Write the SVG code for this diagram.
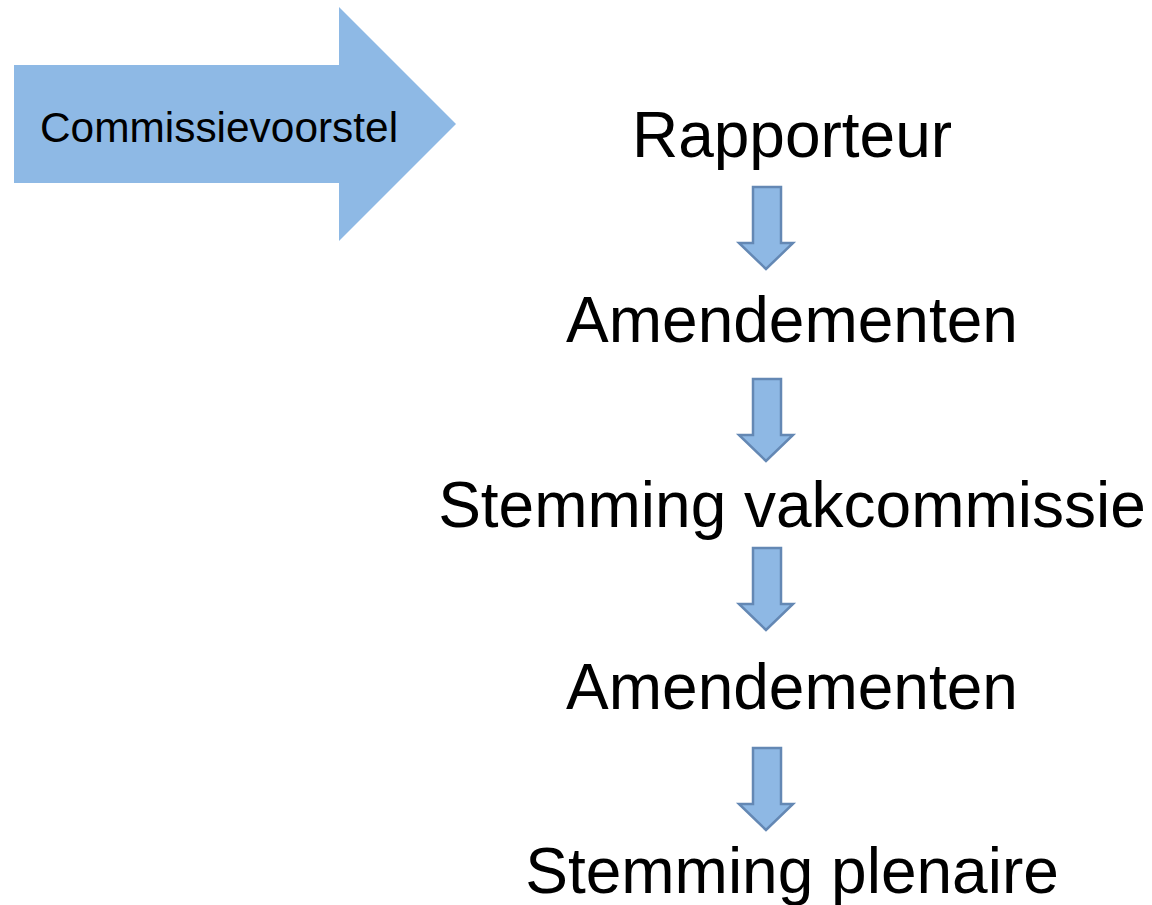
<svg xmlns="http://www.w3.org/2000/svg" width="1152" height="905" viewBox="0 0 1152 905">
<defs>
<style>
.big{font-family:"Liberation Sans",Arial,sans-serif;font-size:64px;fill:#000;text-anchor:middle}
.small{font-family:"Liberation Sans",Arial,sans-serif;font-size:42.4px;fill:#000}
.down{fill:#8EB8E4;stroke:#6488B4;stroke-width:2.5;stroke-linejoin:miter}
</style>
<path id="downArrow" class="down" d="M753,0 L781,0 L781,56 L793,56 L766,82 L739,56 L753,56 Z"/>
</defs>
<rect width="1152" height="905" fill="#fff"/>
<g id="commissievoorstel">
<polygon points="14,65 339,65 339,7 456,124 339,241 339,183 14,183" fill="#8EB9E5"/>
<text class="small" x="40" y="142">Commissievoorstel</text>
</g>
<g id="rapporteur"><text class="big" x="792" y="157">Rapporteur</text></g>
<g id="amendementen1"><text class="big" x="792" y="342">Amendementen</text></g>
<g id="stemming-vakcommissie"><text class="big" x="792" y="527">Stemming vakcommissie</text></g>
<g id="amendementen2"><text class="big" x="792" y="709">Amendementen</text></g>
<g id="stemming-plenaire"><text class="big" x="792" y="893">Stemming plenaire</text></g>
<g id="connectors">
<use href="#downArrow" y="187"/>
<use href="#downArrow" y="379"/>
<use href="#downArrow" y="548"/>
<use href="#downArrow" y="748"/>
</g>
</svg>
